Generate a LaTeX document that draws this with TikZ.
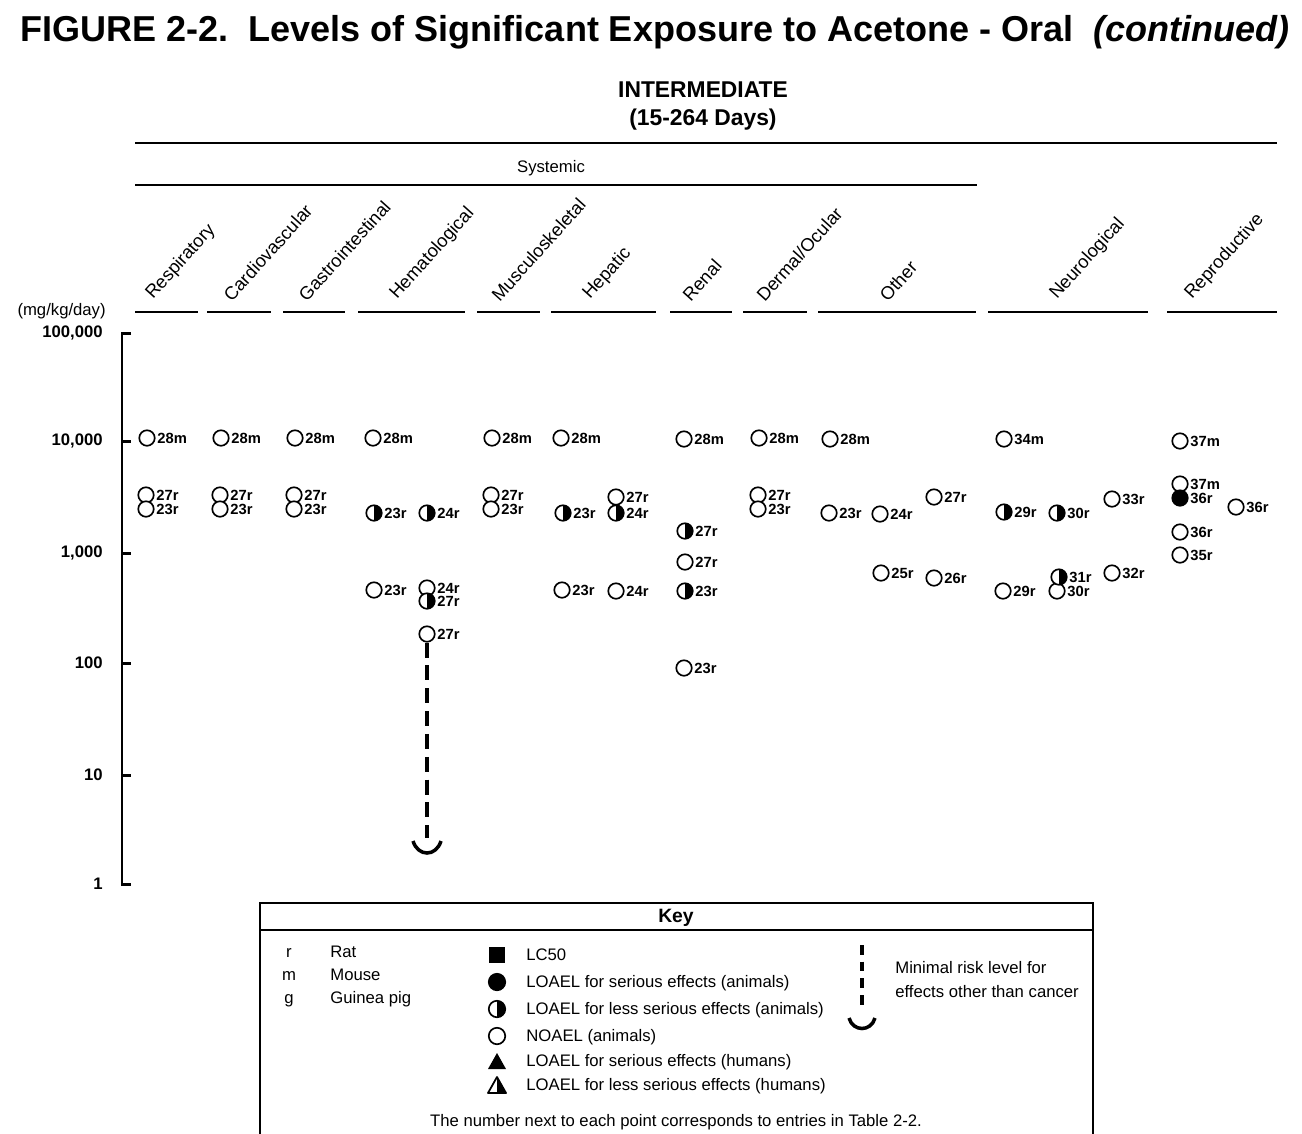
\documentclass[tikz,border=0pt]{standalone}
\usepackage{fontspec}
\setmainfont{Liberation Sans}
\begin{document}
\begin{tikzpicture}[x=0.02cm,y=-0.02cm,
  noael/.style={circle,draw,line width=0.95pt,minimum size=0.31cm,inner sep=0pt,fill=white},
  loael/.style={noael,fill=black},
  lessl/.style={noael,path picture={\fill[black] (path picture bounding box.north) rectangle (path picture bounding box.south east);}},
  ptlbl/.style={font=\fontsize{8.4}{9}\selectfont\bfseries,inner sep=0.8pt},
  organ/.style={font=\fontsize{10.4}{12}\selectfont,rotate=48,anchor=south west,inner sep=0pt},
  axlbl/.style={font=\fontsize{9.5}{11}\selectfont\bfseries,anchor=east,inner sep=0pt},
  keytxt/.style={font=\fontsize{9.5}{11}\selectfont,anchor=base west,inner sep=0pt},
  mrl/.style={line width=2pt,dash pattern=on 8.5pt off 4.5pt}]
\useasboundingbox (0,0) rectangle (1302,1133);

% title and headings
\node[font=\fontsize{20.5}{24}\selectfont\bfseries] (title) at (655,32)
  {FIGURE 2-2.\ \ Levels of Significant Exposure to Acetone - Oral\ \ \textit{(continued)}};
\node[font=\fontsize{13}{15}\selectfont\bfseries] (dur) at (703,90) {INTERMEDIATE};
\node[font=\fontsize{13}{15}\selectfont\bfseries] (days) at (703,120) {(15-264 Days)};
\draw[line width=1pt] (135,143) -- (1277,143);
\node[font=\fontsize{9.5}{11}\selectfont] (sys) at (551,168) {Systemic};
\draw[line width=1pt] (135,185) -- (977,185);

% organ columns
\node[organ] (resp) at (156,303) {Respiratory};
\node[organ] (card) at (232,303) {Cardiovascular};
\node[organ] (gast) at (307,303) {Gastrointestinal};
\node[organ] (hema) at (400,303) {Hematological};
\node[organ] (musc) at (500,303) {Musculoskeletal};
\node[organ] (hepa) at (593,303) {Hepatic};
\node[organ] (rena) at (691,303) {Renal};
\node[organ] (derm) at (765,303) {Dermal/Ocular};
\node[organ] (othe) at (888,303) {Other};
\node[organ] (neur) at (1060,303) {Neurological};
\node[organ] (repr) at (1195,303) {Reproductive};

\draw[line width=1.2pt] (135,312) -- (198,312);
\draw[line width=1.2pt] (207,312) -- (271,312);
\draw[line width=1.2pt] (283,312) -- (345,312);
\draw[line width=1.2pt] (358,312) -- (465,312);
\draw[line width=1.2pt] (477,312) -- (540,312);
\draw[line width=1.2pt] (551,312) -- (656,312);
\draw[line width=1.2pt] (670,312) -- (732,312);
\draw[line width=1.2pt] (743,312) -- (807,312);
\draw[line width=1.2pt] (818,312) -- (976,312);
\draw[line width=1.2pt] (988,312) -- (1148,312);
\draw[line width=1.2pt] (1167,312) -- (1277,312);

% axis
\node[font=\fontsize{9.5}{11}\selectfont,anchor=east,inner sep=0pt] (unit) at (106,311) {(mg/kg/day)};
\draw[line width=1.7pt] (131,333) -- (122,333) -- (122,884) -- (131,884);
\draw[line width=1.7pt] (122,441) -- (131,441);
\draw[line width=1.7pt] (122,553) -- (131,553);
\draw[line width=1.7pt] (122,663) -- (131,663);
\draw[line width=1.7pt] (122,775) -- (131,775);
\node[axlbl] (t5) at (103,333) {100,000};
\node[axlbl] (t4) at (103,441) {10,000};
\node[axlbl] (t3) at (103,553) {1,000};
\node[axlbl] (t2) at (103,663) {100};
\node[axlbl] (t1) at (103,775) {10};
\node[axlbl] (t0) at (103,884) {1};

% Respiratory
\node[noael,label={[ptlbl]right:28m}] (resp28) at (147,438) {};
\node[noael,label={[ptlbl]right:27r}] (resp27) at (146,495) {};
\node[noael,label={[ptlbl]right:23r}] (resp23) at (146,509) {};
% Cardiovascular
\node[noael,label={[ptlbl]right:28m}] (card28) at (221,438) {};
\node[noael,label={[ptlbl]right:27r}] (card27) at (220,495) {};
\node[noael,label={[ptlbl]right:23r}] (card23) at (220,509) {};
% Gastrointestinal
\node[noael,label={[ptlbl]right:28m}] (gast28) at (295,438) {};
\node[noael,label={[ptlbl]right:27r}] (gast27) at (294,495) {};
\node[noael,label={[ptlbl]right:23r}] (gast23) at (294,509) {};
% Hematological
\node[noael,label={[ptlbl]right:28m}] (hema28) at (373,438) {};
\node[lessl,label={[ptlbl]right:23r}] (hema23a) at (374,513) {};
\node[lessl,label={[ptlbl]right:24r}] (hema24a) at (427,513) {};
\node[noael,label={[ptlbl]right:23r}] (hema23b) at (374,590) {};
\node[noael,label={[ptlbl]right:24r}] (hema24b) at (427,588) {};
\node[lessl,label={[ptlbl]right:27r}] (hema27a) at (427,601) {};
\node[noael,label={[ptlbl]right:27r}] (hema27b) at (427,634) {};
\coordinate (mrlend) at (427,838);
\coordinate (mrlL) at (413,841);
\coordinate (mrlR) at (441,841);
\draw[mrl] (hema27b.south) -- (mrlend);
\draw[line width=2pt] (mrlL) .. controls (418,857) and (436,857) .. (mrlR);
% Musculoskeletal
\node[noael,label={[ptlbl]right:28m}] (musc28) at (492,438) {};
\node[noael,label={[ptlbl]right:27r}] (musc27) at (491,495) {};
\node[noael,label={[ptlbl]right:23r}] (musc23) at (491,509) {};
% Hepatic
\node[noael,label={[ptlbl]right:28m}] (hepa28) at (561,438) {};
\node[lessl,label={[ptlbl]right:23r}] (hepa23a) at (563,513) {};
\node[noael,label={[ptlbl]right:27r}] (hepa27) at (616,497) {};
\node[lessl,label={[ptlbl]right:24r}] (hepa24a) at (616,513) {};
\node[noael,label={[ptlbl]right:23r}] (hepa23b) at (562,590) {};
\node[noael,label={[ptlbl]right:24r}] (hepa24b) at (616,591) {};
% Renal
\node[noael,label={[ptlbl]right:28m}] (rena28) at (684,439) {};
\node[lessl,label={[ptlbl]right:27r}] (rena27a) at (685,531) {};
\node[noael,label={[ptlbl]right:27r}] (rena27b) at (685,562) {};
\node[lessl,label={[ptlbl]right:23r}] (rena23a) at (685,591) {};
\node[noael,label={[ptlbl]right:23r}] (rena23b) at (684,668) {};
% Dermal/Ocular
\node[noael,label={[ptlbl]right:28m}] (derm28) at (759,438) {};
\node[noael,label={[ptlbl]right:27r}] (derm27) at (758,495) {};
\node[noael,label={[ptlbl]right:23r}] (derm23) at (758,509) {};
% Other
\node[noael,label={[ptlbl]right:28m}] (othe28) at (830,439) {};
\node[noael,label={[ptlbl]right:23r}] (othe23) at (829,513) {};
\node[noael,label={[ptlbl]right:24r}] (othe24) at (880,514) {};
\node[noael,label={[ptlbl]right:27r}] (othe27) at (934,497) {};
\node[noael,label={[ptlbl]right:25r}] (othe25) at (881,573) {};
\node[noael,label={[ptlbl]right:26r}] (othe26) at (934,578) {};
% Neurological
\node[noael,label={[ptlbl]right:34m}] (neur34) at (1004,439) {};
\node[lessl,label={[ptlbl]right:29r}] (neur29a) at (1004,512) {};
\node[lessl,label={[ptlbl]right:30r}] (neur30a) at (1057,513) {};
\node[noael,label={[ptlbl]right:33r}] (neur33) at (1112,499) {};
\node[noael,label={[ptlbl]right:29r}] (neur29b) at (1003,591) {};
\node[noael,label={[ptlbl]right:30r}] (neur30b) at (1057,591) {};
\node[lessl,label={[ptlbl]right:31r}] (neur31) at (1059,577) {};
\node[noael,label={[ptlbl]right:32r}] (neur32) at (1112,573) {};
% Reproductive
\node[noael,label={[ptlbl]right:37m}] (repr37a) at (1180,441) {};
\node[noael,label={[ptlbl]right:37m}] (repr37b) at (1180,484) {};
\node[loael,label={[ptlbl]right:36r}] (repr36a) at (1180,498) {};
\node[noael,label={[ptlbl]right:36r}] (repr36b) at (1236,507) {};
\node[noael,label={[ptlbl]right:36r}] (repr36c) at (1180,532) {};
\node[noael,label={[ptlbl]right:35r}] (repr35) at (1180,555) {};

% key
\draw[line width=1pt] (260,1140) -- (260,903) -- (1093,903) -- (1093,1140);
\draw[line width=1pt] (260,930) -- (1093,930);
\node[font=\fontsize{11}{13}\selectfont\bfseries] (key) at (676,918) {Key};
\node[keytxt,anchor=base] (kr) at (289,957) {r};
\node[keytxt] (krat) at (330,957) {Rat};
\node[keytxt,anchor=base] (km) at (289,980) {m};
\node[keytxt] (kmou) at (330,980) {Mouse};
\node[keytxt,anchor=base] (kg) at (289,1003) {g};
\node[keytxt] (kgui) at (330,1003) {Guinea pig};

\fill (489,947) rectangle (505,963);
\node[keytxt] (klc) at (526,960) {LC50};
\node[loael,minimum size=0.33cm] (kser) at (497,982) {};
\node[keytxt] (ksert) at (526,987) {LOAEL for serious effects (animals)};
\node[lessl,minimum size=0.33cm] (kless) at (497,1009) {};
\node[keytxt] (klesst) at (526,1014) {LOAEL for less serious effects (animals)};
\node[noael,minimum size=0.33cm] (knoa) at (497,1036) {};
\node[keytxt] (knoat) at (526,1041) {NOAEL (animals)};
\fill (497,1053) -- (506,1069) -- (488,1069) -- cycle;
\node[keytxt] (khum) at (526,1066) {LOAEL for serious effects (humans)};
\fill (497,1077) -- (506,1093) -- (497,1093) -- cycle;
\draw[line width=1pt,line join=round] (497,1077) -- (506,1093) -- (488,1093) -- cycle;
\node[keytxt] (khuml) at (526,1090) {LOAEL for less serious effects (humans)};

\coordinate (kmrlA) at (862,945);
\coordinate (kmrlB) at (862,1008);
\coordinate (kmrlL) at (849,1018);
\coordinate (kmrlR) at (875,1018);
\draw[mrl,dash pattern=on 5.5pt off 4pt] (kmrlA) -- (kmrlB);
\draw[line width=2pt] (kmrlL) .. controls (853,1032) and (871,1032) .. (kmrlR);
\node[keytxt] (kmrl1) at (895,973) {Minimal risk level for};
\node[keytxt] (kmrl2) at (895,997) {effects other than cancer};
\node[font=\fontsize{9.5}{11}\selectfont] (knote) at (676,1122)
  {The number next to each point corresponds to entries in Table 2-2.};
\end{tikzpicture}
\end{document}
